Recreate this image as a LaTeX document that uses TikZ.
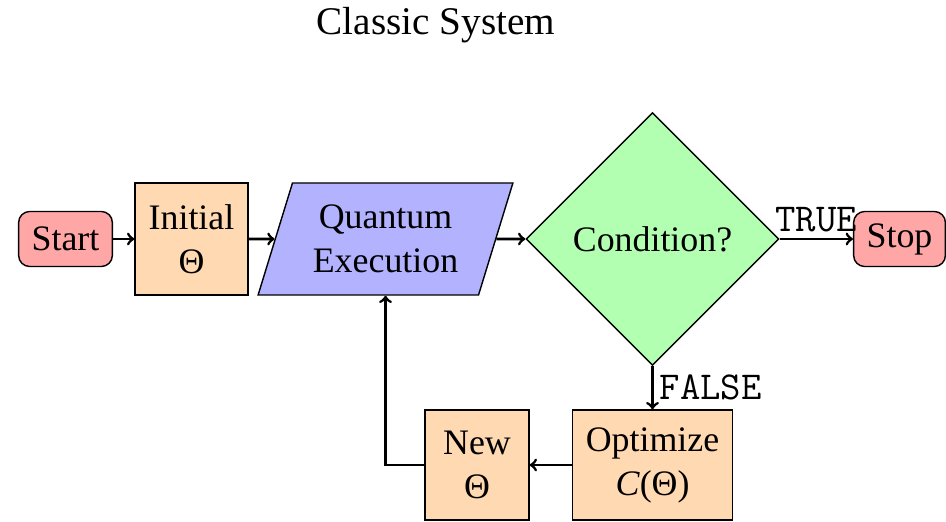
\documentclass[tikz,border=0pt]{standalone}
\usepackage{fontspec}
\setmainfont{Liberation Serif}
\usetikzlibrary{shapes.geometric}
\tikzset{
  every node/.style={font=\fontsize{20.4}{25}\selectfont},
  terminal/.style={draw, line width=0.8pt, rounded corners=0.22cm, fill=red!35,
    minimum height=1.1cm, inner xsep=0.26cm},
  process/.style={draw, line width=0.8pt, fill=orange!30, align=center,
    minimum height=2.24cm},
  quantum/.style={draw, line width=0.8pt, fill=blue!30, align=center, trapezium,
    trapezium left angle=70, trapezium right angle=110, trapezium stretches=true,
    minimum width=5.1cm, minimum height=2.24cm},
  decision/.style={draw, line width=0.8pt, fill=green!30, diamond, aspect=1,
    minimum size=5.06cm},
  flow/.style={->, line width=1.6pt},
  branch/.style={font=\ttfamily\fontsize{22.5}{26}\selectfont}
}

\begin{document}
\begin{tikzpicture}
\clip (0,0) rectangle (18.92,10.42);
\node[font=\fontsize{22.3}{27}\selectfont] (title) at (8.72,9.92) {Classic System};
\node[terminal] (start) at (1.31,5.64) {Start};
\node[process, minimum width=2.26cm] (init) at (3.83,5.64) {Initial\\Θ};
\node[quantum] (qexec) at (7.71,5.64) {Quantum\\Execution};
\node[decision] (cond) at (13.05,5.64) {Condition?};
\node[terminal] (stop) at (17.99,5.64) {Stop};
\node[process, minimum width=3.2cm, minimum height=2.2cm] (optim) at (13.05,1.12) {Optimize\\\textit{C}(Θ)};
\node[process, minimum width=2.08cm, minimum height=2.2cm] (newth) at (9.54,1.12) {New\\Θ};
\draw[flow] (start) -- (init);
\draw[flow] (init) -- (qexec);
\draw[flow] (qexec) -- (cond);
\draw[flow] (cond) -- node[above, branch] {TRUE} (stop);
\draw[flow] (cond.south) -- node[right, branch] {FALSE} (optim.north);
\draw[flow] (optim) -- (newth);
\draw[flow] (newth.west) -| (qexec.south);
\end{tikzpicture}
\end{document}
